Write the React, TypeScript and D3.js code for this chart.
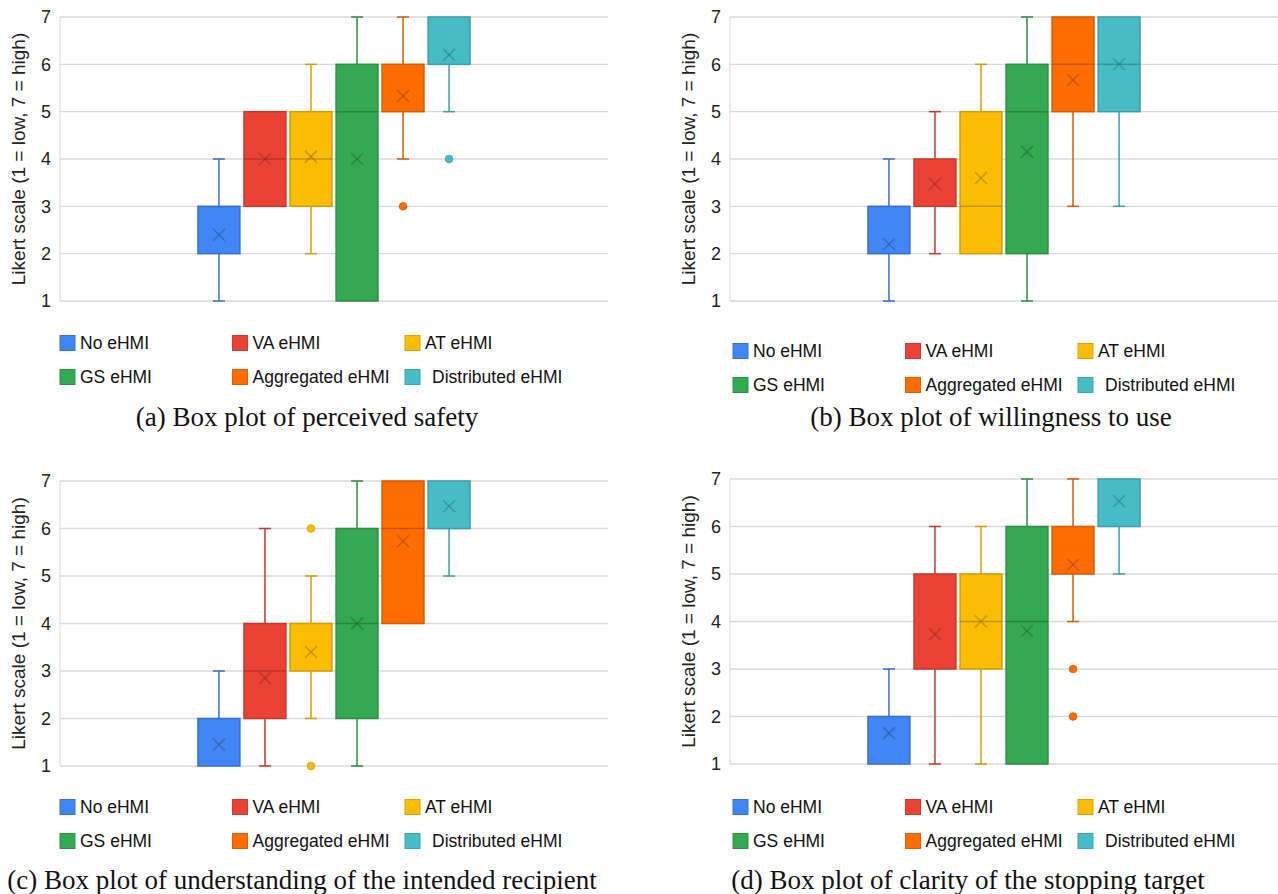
import * as d3 from 'd3'

const SERIES = ['No eHMI', 'VA eHMI', 'AT eHMI', 'GS eHMI', 'Aggregated eHMI', 'Distributed eHMI']
const COLORS = ['#4285f4', '#ea4335', '#fbbc04', '#34a853', '#ff6d01', '#46bdc6']
const Y_TICKS = [1, 2, 3, 4, 5, 6, 7]

// [min, q1, median, q3, max, mean] per series
const safetyStats = [
  [1, 2, 2, 3, 4, 2.4],
  [3, 3, 4, 5, 5, 4.0],
  [2, 3, 4, 5, 6, 4.05],
  [1, 1, 5, 6, 7, 4.0],
  [4, 5, 5, 6, 7, 5.33],
  [5, 6, 6, 7, 7, 6.2],
]
const safetyOutliers = [[], [], [], [], [3], [4]]

const willingStats = [
  [1, 2, 2, 3, 4, 2.2],
  [2, 3, 3, 4, 5, 3.47],
  [2, 2, 3, 5, 6, 3.6],
  [1, 2, 5, 6, 7, 4.15],
  [3, 5, 6, 7, 7, 5.67],
  [3, 5, 6, 7, 7, 6.0],
]
const willingOutliers = [[], [], [], [], [], []]

const recipientStats = [
  [1, 1, 1, 2, 3, 1.45],
  [1, 2, 3, 4, 6, 2.85],
  [2, 3, 3, 4, 5, 3.4],
  [1, 2, 4, 6, 7, 4.0],
  [4, 4, 6, 7, 7, 5.73],
  [5, 6, 6, 7, 7, 6.47],
]
const recipientOutliers = [[], [], [6, 1], [], [], []]

const clarityStats = [
  [1, 1, 1, 2, 3, 1.65],
  [1, 3, 3, 5, 6, 3.73],
  [1, 3, 4, 5, 6, 4.0],
  [1, 1, 4, 6, 7, 3.8],
  [4, 5, 5, 6, 7, 5.2],
  [5, 6, 6, 7, 7, 6.53],
]
const clarityOutliers = [[], [], [], [], [3, 2], []]

interface PanelProps {
  stats: number[][]
  outliers: number[][]
  left: number
  right: number
  top: number
  bottom: number
  legendY: number
  legendX: number
  captionY: number
  captionX: number
  caption: string
}

const SANS = 'Liberation Sans, Arial, sans-serif'

function Panel({ stats, outliers, left, right, top, bottom, legendY, legendX, captionY, captionX, caption }: PanelProps) {
  const y = d3.scaleLinear().domain([1, 7]).range([bottom, top])
  const cx = (left + right) / 2
  const x = d3.scaleBand<string>().domain(SERIES).range([cx - 136, cx + 136]).paddingInner(0.09)
  const bw = x.bandwidth()
  const cap = 6
  const m = 6

  return (
    <g>
      {/* grid */}
      {Y_TICKS.map(t => (
        <line key={t} x1={left} x2={right} y1={y(t)} y2={y(t)} stroke="#d9d9d9" strokeWidth={1.3} />
      ))}
      <line x1={left} x2={left} y1={y(7)} y2={y(1)} stroke="#d9d9d9" strokeWidth={1} />
      {Y_TICKS.map(t => (
        <text key={t} x={left - 9} y={y(t)} dy="0.36em" textAnchor="end" fontSize={18}
          fontFamily={SANS} fill="#222">{t}</text>
      ))}
      <text transform={`translate(${left - 42},${(top + bottom) / 2}) rotate(-90)`} textAnchor="middle"
        dy="0.35em" fontSize={19} fontFamily={SANS} fill="#222">
        Likert scale (1 = low, 7 = high)
      </text>

      {SERIES.map((s, i) => {
        const [mn, q1, med, q3, mx, mean] = stats[i]
        const x0 = x(s) as number
        const xc = x0 + bw / 2
        const col = COLORS[i]
        const dark = d3.color(col)!.darker(0.5).formatHex()
        const darker = d3.color(col)!.darker(1.4).formatHex()
        return (
          <g key={s}>
            {mx > q3 && (
              <g stroke={dark} strokeWidth={1.5}>
                <line x1={xc} x2={xc} y1={y(q3)} y2={y(mx)} />
                <line x1={xc - cap} x2={xc + cap} y1={y(mx)} y2={y(mx)} />
              </g>
            )}
            {mn < q1 && (
              <g stroke={dark} strokeWidth={1.5}>
                <line x1={xc} x2={xc} y1={y(q1)} y2={y(mn)} />
                <line x1={xc - cap} x2={xc + cap} y1={y(mn)} y2={y(mn)} />
              </g>
            )}
            <rect x={x0} y={y(q3)} width={bw} height={y(q1) - y(q3)} fill={col} stroke={dark} strokeWidth={1.5} />
            {med > q1 && med < q3 && (
              <line x1={x0} x2={x0 + bw} y1={y(med)} y2={y(med)} stroke={darker} strokeOpacity={0.55} strokeWidth={1.5} />
            )}
            <g stroke={darker} strokeOpacity={0.5} strokeWidth={1.5}>
              <line x1={xc - m} x2={xc + m} y1={y(mean) - m} y2={y(mean) + m} />
              <line x1={xc - m} x2={xc + m} y1={y(mean) + m} y2={y(mean) - m} />
            </g>
            {outliers[i].map((o, j) => (
              <circle key={j} cx={xc} cy={y(o)} r={3.8} fill={col} stroke={dark} strokeWidth={0.8} />
            ))}
          </g>
        )
      })}

      {/* legend */}
      {SERIES.map((s, i) => {
        const col = i % 3
        const row = Math.floor(i / 3)
        const lx = legendX + col * 172.5
        const ly = legendY + row * 34
        return (
          <g key={s}>
            <rect x={lx} y={ly - 7.5} width={15} height={15} fill={COLORS[i]}
              stroke={d3.color(COLORS[i])!.darker(0.4).formatHex()} strokeWidth={1} />
            <text x={lx + (i === 5 ? 27 : 20)} y={ly} dy="0.36em" fontSize={17.5}
              fontFamily={SANS} fill="#111">{s}</text>
          </g>
        )
      })}

      <text x={captionX} y={captionY} textAnchor="middle" fontSize={27}
        fontFamily="Liberation Serif, Times New Roman, serif" fill="#111">{caption}</text>
    </g>
  )
}

export default function App() {
  return (
    <svg width={1278} height={894} style={{ position: 'absolute', left: 0, top: 0, background: '#fff' }}>
      <Panel stats={safetyStats} outliers={safetyOutliers} left={60} right={608} top={17} bottom={301}
        legendX={60} legendY={343} captionX={307} captionY={426} caption="(a) Box plot of perceived safety" />
      <Panel stats={willingStats} outliers={willingOutliers} left={730} right={1278} top={17} bottom={301}
        legendX={733} legendY={351} captionX={991} captionY={426} caption="(b) Box plot of willingness to use" />
      <Panel stats={recipientStats} outliers={recipientOutliers} left={60} right={608} top={481} bottom={766}
        legendX={60} legendY={807} captionX={302} captionY={889} caption="(c) Box plot of understanding of the intended recipient" />
      <Panel stats={clarityStats} outliers={clarityOutliers} left={730} right={1278} top={479} bottom={764}
        legendX={733} legendY={807} captionX={968} captionY={889} caption="(d) Box plot of clarity of the stopping target" />
    </svg>
  )
}
